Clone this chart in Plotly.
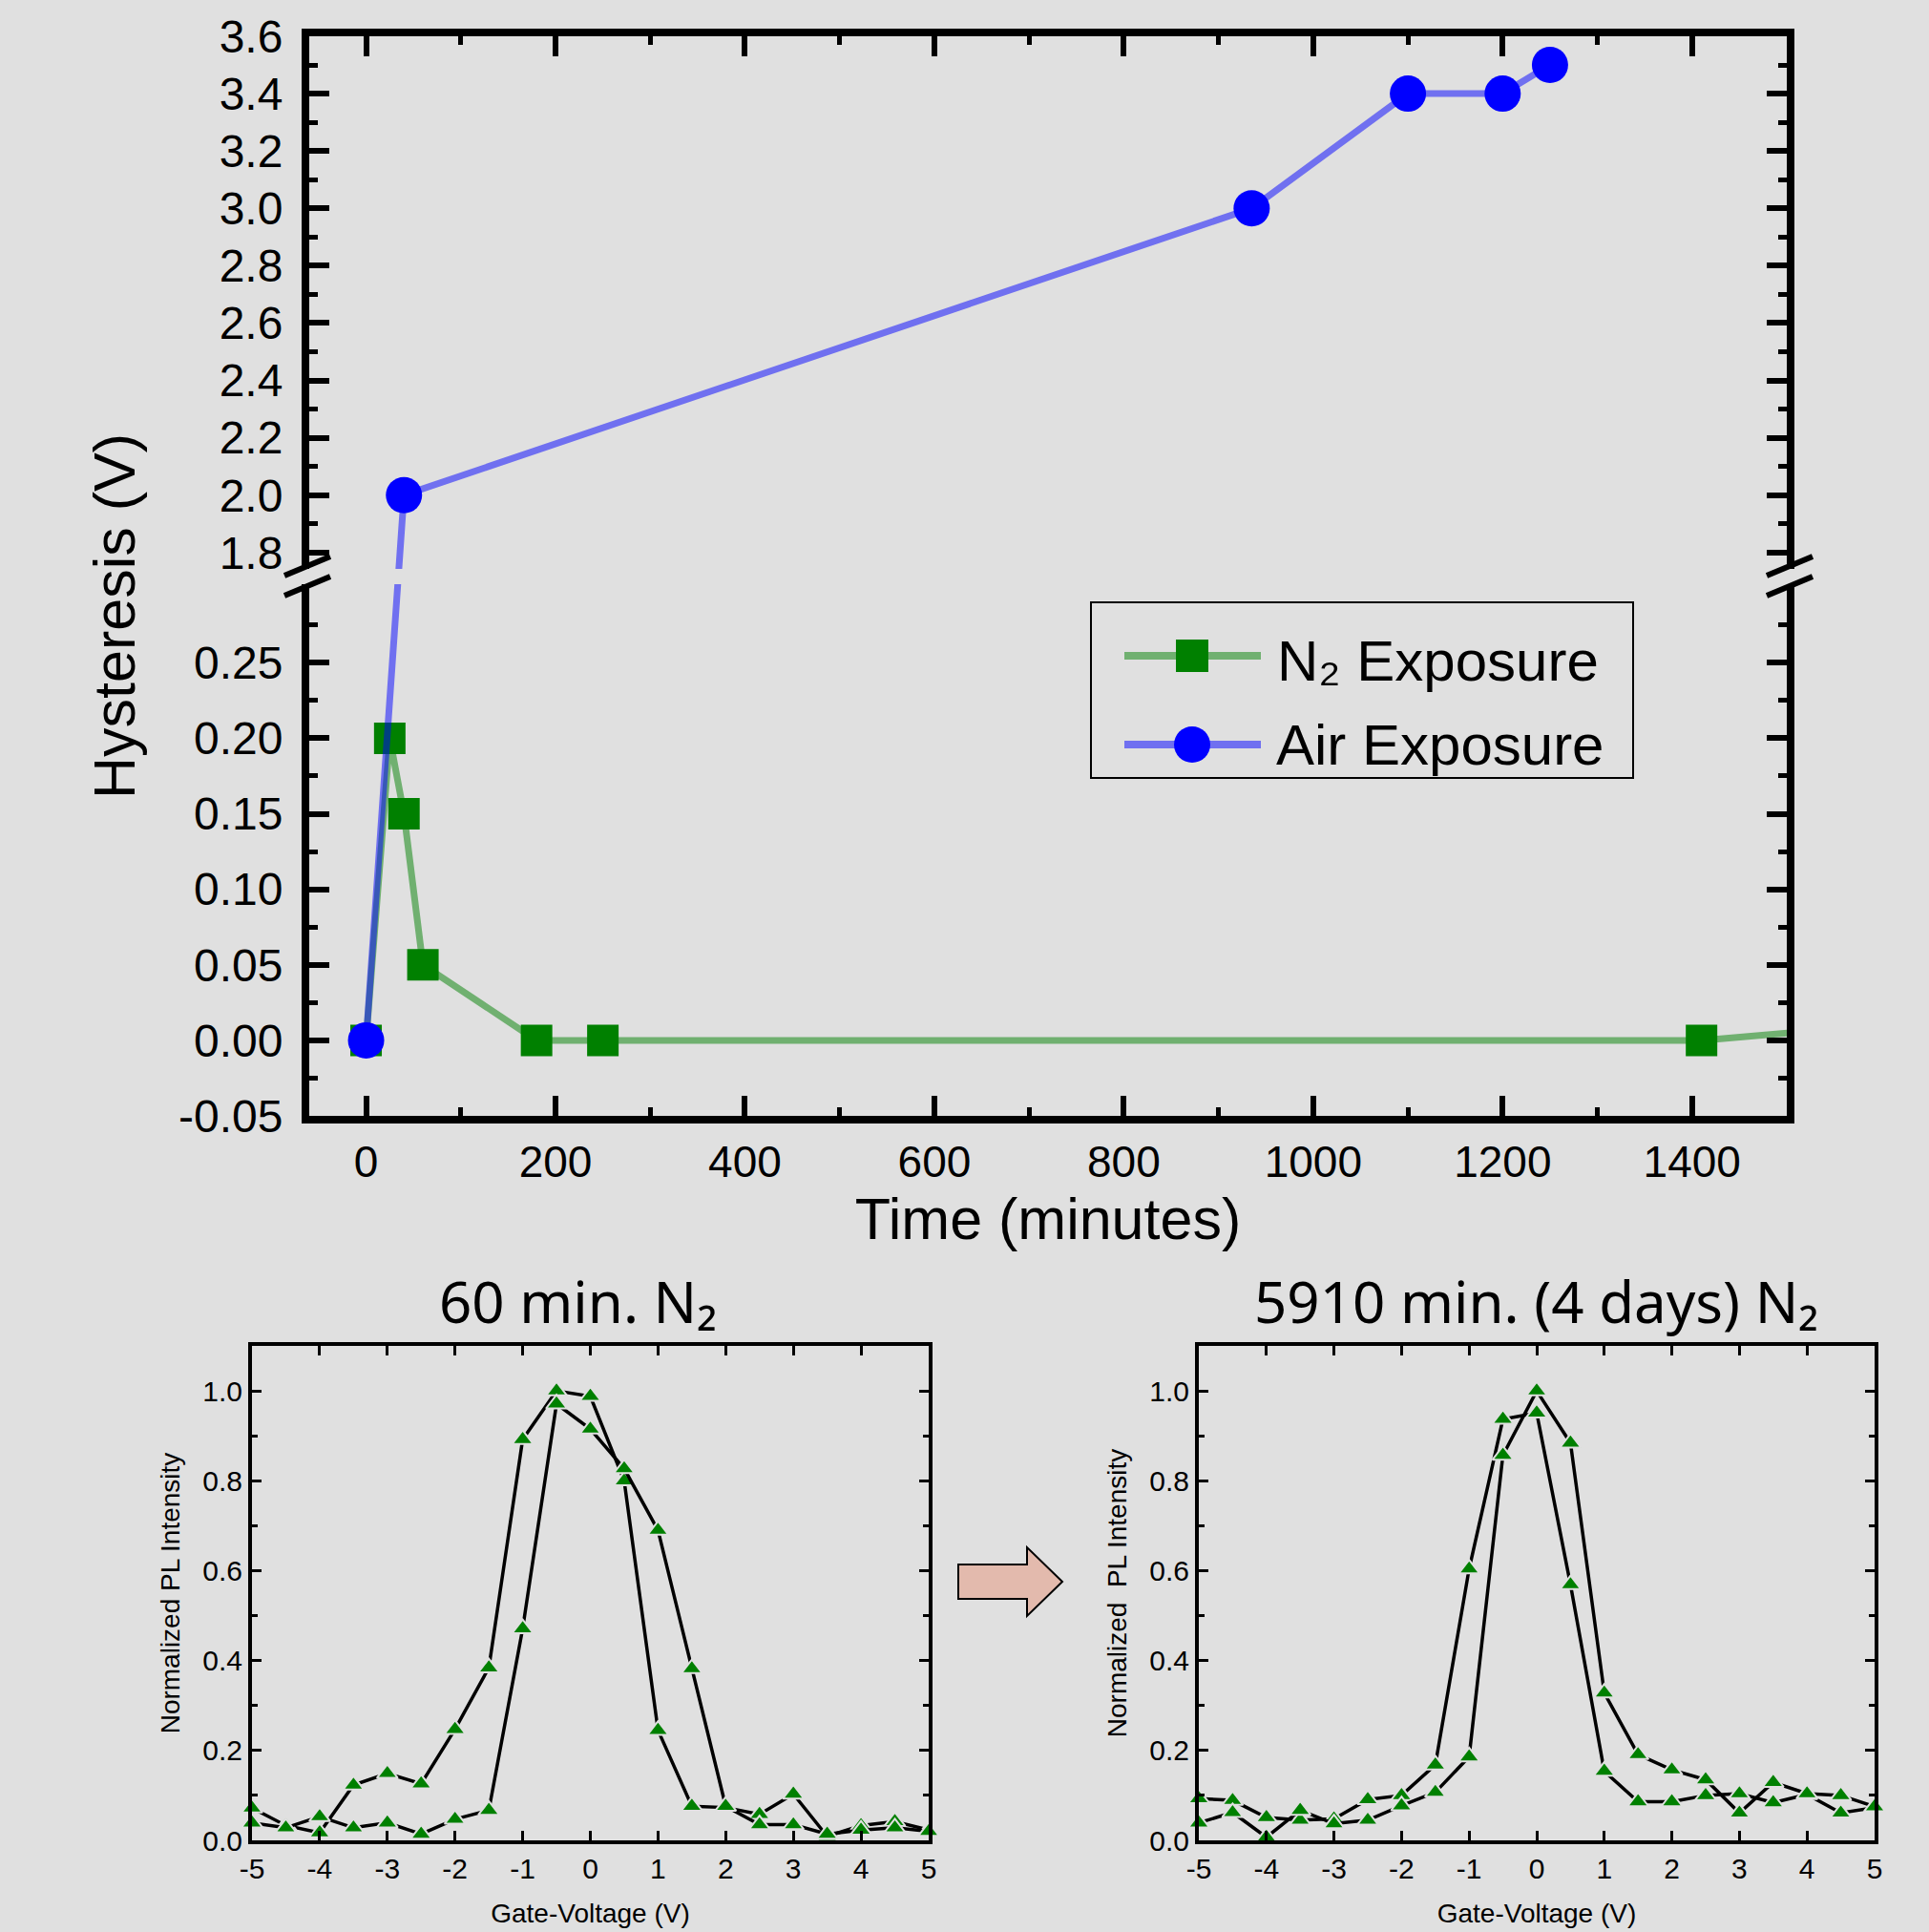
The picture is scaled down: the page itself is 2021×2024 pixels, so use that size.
import plotly.graph_objects as go

W, H = 2021, 2024
BG = '#e0e0e0'
ARIAL = 'Liberation Sans, Arial, sans-serif'
TITLE_FONT = 'Noto Sans, Open Sans, sans-serif'

# ---------------- data: hysteresis vs time ----------------
n2_time = [0, 25, 40, 60, 180, 250, 1410, 5910]
n2_hyst = [0.0, 0.20, 0.15, 0.05, 0.0, 0.0, 0.0, 0.24]
air_time = [0, 40, 935, 1100, 1200, 1250]
air_hyst = [0.0, 2.0, 3.0, 3.4, 3.4, 3.5]

lower_major = [-0.05, 0.0, 0.05, 0.10, 0.15, 0.20, 0.25]
lower_labels = ['-0.05', '0.00', '0.05', '0.10', '0.15', '0.20', '0.25']
lower_minor = [-0.025, 0.025, 0.075, 0.125, 0.175, 0.225, 0.275]
upper_major = [1.8, 2.0, 2.2, 2.4, 2.6, 2.8, 3.0, 3.2, 3.4, 3.6]
upper_labels = ['1.8', '2.0', '2.2', '2.4', '2.6', '2.8', '3.0', '3.2', '3.4', '3.6']
upper_minor = [1.9, 2.1, 2.3, 2.5, 2.7, 2.9, 3.1, 3.3, 3.5]

# ---------------- data: PL vs gate voltage ----------------
gate_v = [-5, -4.5, -4, -3.5, -3, -2.5, -2, -1.5, -1, -0.5, 0,
          0.5, 1, 1.5, 2, 2.5, 3, 3.5, 4, 4.5, 5]
gate_ticks = [-5, -4, -3, -2, -1, 0, 1, 2, 3, 4, 5]
gate_labels = ['-5', '-4', '-3', '-2', '-1', '0', '1', '2', '3', '4', '5']
pl60_a = [0.072, 0.033, 0.017, 0.123, 0.149, 0.126, 0.247, 0.384, 0.892, 1.0, 0.988,
          0.80, 0.245, 0.076, 0.073, 0.058, 0.103, 0.009, 0.033, 0.042, 0.023]
pl60_b = [0.039, 0.028, 0.053, 0.028, 0.039, 0.014, 0.047, 0.067, 0.471, 0.971, 0.915,
          0.827, 0.69, 0.382, 0.076, 0.035, 0.035, 0.014, 0.023, 0.028, 0.02]
pl5910_a = [0.093, 0.089, 0.051, 0.045, 0.048, 0.091, 0.10, 0.168, 0.604, 0.937, 0.951,
            0.569, 0.154, 0.086, 0.086, 0.10, 0.104, 0.084, 0.102, 0.061, 0.073]
pl5910_b = [0.039, 0.062, 0.007, 0.067, 0.037, 0.045, 0.077, 0.107, 0.186, 0.857, 1.0,
            0.884, 0.328, 0.191, 0.157, 0.135, 0.061, 0.129, 0.104, 0.10, 0.075]

# ---------------- broken-axis scale ----------------
BRK_LOW = 0.3063      # lower segment value at the break
BRK_HIGH = 1.7119     # upper segment value at the break
BRK_RATIO = 301.9 / 1590.0  # upper segment compression


def brk(v):
    return v if v < 1.0 else BRK_LOW + (v - BRK_HIGH) * BRK_RATIO


def px(x):
    return x / W


def py(y):
    return 1 - y / H


fig = go.Figure()

fig.add_trace(go.Scatter(
    x=n2_time, y=[brk(v) for v in n2_hyst], name='N₂ Exposure',
    mode='lines+markers', xaxis='x', yaxis='y',
    line=dict(color='rgba(0,128,0,0.5)', width=7),
    marker=dict(symbol='square', size=33, color='#008000', line=dict(width=0)),
    showlegend=False))
fig.add_trace(go.Scatter(
    x=air_time, y=[brk(v) for v in air_hyst], name='Air Exposure',
    mode='lines+markers', xaxis='x', yaxis='y',
    line=dict(color='rgba(0,0,255,0.5)', width=7),
    marker=dict(symbol='circle', size=38, color='#0000ff', line=dict(width=0)),
    showlegend=False))

for xa, ya, ys in (('x2', 'y2', (pl60_a, pl60_b)), ('x3', 'y3', (pl5910_a, pl5910_b))):
    for yv in ys:
        fig.add_trace(go.Scatter(
            x=gate_v, y=yv, mode='lines+markers', xaxis=xa, yaxis=ya,
            line=dict(color='black', width=3.5),
            marker=dict(symbol='triangle-up', size=19, color='#008000',
                        line=dict(color=BG, width=2)),
            showlegend=False, cliponaxis=False))

top_axis_common = dict(
    showgrid=False, zeroline=False, ticks='inside', ticklen=21, tickwidth=6,
    tickcolor='black', showline=True, linewidth=8, linecolor='black',
    mirror='ticks', automargin=False)

fig.update_layout(
    template='none',
    width=W, height=H, autosize=False,
    margin=dict(l=0, r=0, t=0, b=0, pad=0, autoexpand=False),
    paper_bgcolor=BG, plot_bgcolor=BG,
    font=dict(family=ARIAL, color='black'),
    showlegend=False,
    xaxis=dict(
        domain=[px(324), px(1872)], range=[-60, 1500], anchor='y',
        tickmode='linear', tick0=0, dtick=200,
        minor=dict(tickmode='linear', tick0=0, dtick=100, ticks='inside',
                   ticklen=9, tickwidth=5, tickcolor='black'),
        ticklabelstandoff=1,
        tickfont=dict(family=ARIAL, size=46, color='black'),
        title=dict(text='Time (minutes)', font=dict(family=ARIAL, size=61),
                   standoff=10),
        **top_axis_common),
    yaxis=dict(
        domain=[py(1169), py(38)], range=[-0.05, brk(3.6)], anchor='x',
        tickmode='array',
        tickvals=[brk(v) for v in lower_major + upper_major],
        ticktext=lower_labels + upper_labels,
        minor=dict(tickmode='array',
                   tickvals=[brk(v) for v in lower_minor + upper_minor],
                   ticks='inside', ticklen=9, tickwidth=5, tickcolor='black'),
        ticklabelstandoff=10,
        tickfont=dict(family=ARIAL, size=48, color='black'),
        **top_axis_common),
)

bottom_common = dict(
    showgrid=False, zeroline=False, ticks='inside', ticklen=10, tickwidth=3,
    tickcolor='black', showline=True, linewidth=4, linecolor='black',
    mirror='ticks', automargin=False,
    tickfont=dict(family=ARIAL, size=30, color='black'))

for i, (x0, x1, ytitle) in enumerate(((264, 973, 'Normalized PL Intensity'),
                                       (1256, 1964, 'Normalized \u00a0PL Intensity')), start=2):
    fig.update_layout({
        f'xaxis{i}': dict(
            domain=[px(x0), px(x1)], range=[-5, 5], anchor=f'y{i}',
            tickmode='array', tickvals=gate_ticks, ticktext=gate_labels,
            ticklabelstandoff=0,
            title=dict(text='Gate-Voltage (V)', font=dict(family=ARIAL, size=28),
                       standoff=22),
            **bottom_common),
        f'yaxis{i}': dict(
            domain=[py(1928), py(1410)], range=[0, 1.1], anchor=f'x{i}',
            tickmode='linear', tick0=0, dtick=0.2, tickformat='.1f',
            minor=dict(tickmode='linear', tick0=0, dtick=0.1, ticks='inside',
                       ticklen=6, tickwidth=3, tickcolor='black'),
            ticklabelstandoff=0,
            title=dict(text=ytitle, font=dict(family=ARIAL, size=28), standoff=16),
            **bottom_common),
    })

shapes = []
# axis break: gap band and slanted marks
shapes.append(dict(type='rect', xref='paper', yref='paper', layer='above',
                   x0=px(313), x1=px(1883), y0=py(612), y1=py(596),
                   fillcolor=BG, line=dict(width=0)))
for (xa, xb) in ((298, 346), (1851, 1899)):
    shapes.append(dict(type='line', xref='paper', yref='paper', layer='above',
                       x0=px(xa), y0=py(603), x1=px(xb), y1=py(583),
                       line=dict(color='black', width=6)))
    shapes.append(dict(type='line', xref='paper', yref='paper', layer='above',
                       x0=px(xa), y0=py(624), x1=px(xb), y1=py(604),
                       line=dict(color='black', width=6)))

# custom legend
shapes.append(dict(type='rect', xref='paper', yref='paper', layer='above',
                   x0=px(1143), x1=px(1711), y0=py(815), y1=py(631),
                   line=dict(color='black', width=2), fillcolor='rgba(0,0,0,0)'))
shapes.append(dict(type='line', xref='paper', yref='paper', layer='above',
                   x0=px(1178), x1=px(1321), y0=py(687), y1=py(687),
                   line=dict(color='rgba(0,128,0,0.5)', width=8)))
shapes.append(dict(type='rect', xref='paper', yref='paper', layer='above',
                   x0=px(1232), x1=px(1266), y0=py(704), y1=py(670),
                   fillcolor='#008000', line=dict(width=0)))
shapes.append(dict(type='line', xref='paper', yref='paper', layer='above',
                   x0=px(1178), x1=px(1321), y0=py(780), y1=py(780),
                   line=dict(color='rgba(0,0,255,0.5)', width=8)))
shapes.append(dict(type='circle', xref='paper', yref='paper', layer='above',
                   x0=px(1230), x1=px(1268), y0=py(799), y1=py(761),
                   fillcolor='#0000ff', line=dict(width=0)))

# arrow between the two PL panels
pts = [(1004, 1639), (1076, 1639), (1076, 1621), (1113, 1657),
       (1076, 1693), (1076, 1675), (1004, 1675)]
path = 'M ' + ' L '.join(f'{px(a):.5f},{py(b):.5f}' for a, b in pts) + ' Z'
shapes.append(dict(type='path', xref='paper', yref='paper', path=path,
                   fillcolor='#e3baad', line=dict(color='black', width=2)))

annotations = [
    dict(text='Hysteresis (V)', xref='paper', yref='paper', x=px(120), y=py(646),
         textangle=-90, showarrow=False, xanchor='center', yanchor='middle',
         font=dict(family=ARIAL, size=61, color='black')),
    dict(text='N₂ Exposure', xref='paper', yref='paper', x=px(1336), y=py(692),
         showarrow=False, xanchor='left', yanchor='middle',
         font=dict(family=ARIAL, size=60, color='black')),
    dict(text='Air Exposure', xref='paper', yref='paper', x=px(1335), y=py(780),
         showarrow=False, xanchor='left', yanchor='middle',
         font=dict(family=ARIAL, size=60, color='black')),
    dict(text='60 min. N₂', xref='paper', yref='paper', x=px(605), y=py(1363),
         showarrow=False, xanchor='center', yanchor='middle',
         font=dict(family=TITLE_FONT, size=60, color='black')),
    dict(text='5910 min. (4 days) N₂', xref='paper', yref='paper', x=px(1609),
         y=py(1363), showarrow=False, xanchor='center', yanchor='middle',
         font=dict(family=TITLE_FONT, size=60, color='black')),
]

fig.update_layout(shapes=shapes, annotations=annotations)
fig.write_html(
    'out.html',
    config={'displayModeBar': False},
    post_script="document.body.style.margin='0px';"
                "document.body.style.padding='0px';"
                "document.body.style.overflow='hidden';")
